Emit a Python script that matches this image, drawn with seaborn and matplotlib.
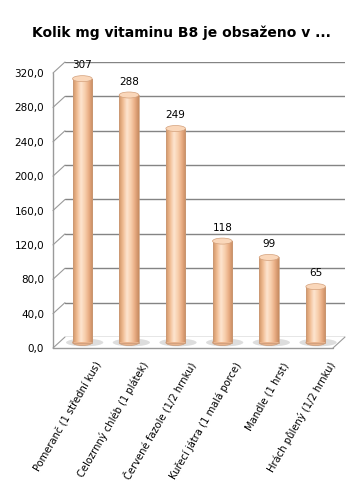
import matplotlib
matplotlib.use("Agg")
import matplotlib.pyplot as plt
import matplotlib.transforms as mtransforms
from matplotlib.patches import Ellipse
from matplotlib.lines import Line2D
from matplotlib.colors import LinearSegmentedColormap
from matplotlib.ticker import FuncFormatter
import numpy as np
import seaborn as sns

# Data
categories = [
    "Pomeranč (1 střední kus)",
    "Celozrnný chléb (1 plátek)",
    "Červené fazole (1/2 hrnku)",
    "Kuřecí játra (1 malá porce)",
    "Mandle (1 hrst)",
    "Hrách půlený (1/2 hrnku)",
]
values = [307, 288, 249, 118, 99, 65]
y_ticks = [0, 40, 80, 120, 160, 200, 240, 280, 320]

sns.set_style("white")
plt.rcParams["font.family"] = ["DejaVu Sans"]
plt.rcParams["text.color"] = "black"
plt.rcParams["xtick.color"] = "black"
plt.rcParams["ytick.color"] = "black"

DPI = 100
fig = plt.figure(figsize=(3.63, 4.95), dpi=DPI)
# back wall of the pseudo-3D chart
ax = fig.add_axes([65 / 363, 158 / 495, 280 / 363, 275 / 495])

bar_w = 0.42
sns.barplot(x=categories, y=values, ax=ax, width=bar_w, color="#f6c9a4",
            saturation=1, errorbar=None)

ax.set_xlim(-0.5, len(categories) - 0.5)
ax.set_ylim(0, 320)
ax.set_yticks(y_ticks)
ax.yaxis.set_major_formatter(FuncFormatter(lambda v, p: f"{v:.1f}".replace(".", ",")))
ax.set_xlabel("")
ax.set_ylabel("")
for s in ax.spines.values():
    s.set_visible(False)
ax.yaxis.grid(True, color="#848484", linewidth=1.0)
ax.set_axisbelow(True)
ax.tick_params(length=0, pad=0, colors="black")

# depth offsets (pixels)
front_dx, front_dy = -12, -11
mid_dx, mid_dy = -6, -5.5

def shifted(dx, dy):
    return ax.transData + mtransforms.ScaledTranslation(dx / DPI, dy / DPI, fig.dpi_scale_trans)

mid = shifted(mid_dx, mid_dy)

# cylinder shading
cyl = LinearSegmentedColormap.from_list(
    "cyl", ["#d09568", "#f1bd94", "#fde4cf", "#f8cfad", "#e9ad84", "#c78b60"])
grad = cyl(np.linspace(0, 1, 64))[None, :, :]
top_h = 7.0

for patch in ax.patches:
    x0 = patch.get_x()
    w = patch.get_width()
    h = patch.get_height()
    cx = x0 + w / 2
    # floor shadow
    ax.add_patch(Ellipse((cx + 0.05, 0), w * 1.9, 9, transform=mid,
                         facecolor="#cfcfcf", edgecolor="none", alpha=0.7,
                         zorder=1.5, clip_on=False))
    # rounded bottom
    ax.add_patch(Ellipse((cx, 0), w, top_h, transform=mid, facecolor="#eab48d",
                         edgecolor="#c99a78", linewidth=0.5, zorder=1.9, clip_on=False))
    patch.set_transform(mid)
    patch.set_facecolor("none")
    patch.set_edgecolor("#c99a78")
    patch.set_linewidth(0.5)
    patch.set_zorder(2.2)
    patch.set_clip_on(False)
    im = ax.imshow(grad, extent=(x0, x0 + w, 0, h), aspect="auto",
                   transform=mid, zorder=2.1, interpolation="bilinear")
    im.set_clip_path(patch)
    # top cap
    ax.add_patch(Ellipse((cx, h), w, top_h, transform=mid, facecolor="#fad7ba",
                         edgecolor="#d4a17c", linewidth=0.5, zorder=2.3, clip_on=False))

ax.set_xlim(-0.5, len(categories) - 0.5)
ax.set_ylim(0, 320)

# value labels
labels = ax.bar_label(ax.containers[0], labels=[str(v) for v in values],
                      padding=0, fontsize=7.5, color="black")
for t in labels:
    t.xyann = (mid_dx * 72 / DPI, 2)

# y tick labels on the front edge
for t in ax.get_yticklabels():
    t.set_fontsize(7.5)
    t.set_color("black")
    t.set_transform(t.get_transform() + mtransforms.ScaledTranslation(
        (front_dx - 9) / DPI, front_dy / DPI, fig.dpi_scale_trans))

# x tick labels
for t in ax.get_xticklabels():
    t.set_fontsize(7.2)
    t.set_color("black")
    t.set_rotation(60)
    t.set_rotation_mode("anchor")
    t.set_ha("right")
    t.set_va("center")
    t.set_transform(t.get_transform() + mtransforms.ScaledTranslation(11 / DPI, -26 / DPI, fig.dpi_scale_trans))

# walls: front axis line, depth diagonals, floor
front = shifted(front_dx, front_dy)
lc = "#9a9a9a"
ax.add_line(Line2D([-0.5, -0.5], [0, 320], transform=front, color=lc, lw=1.0, clip_on=False))
ax.add_line(Line2D([-0.5, len(categories) - 0.5], [0, 0], transform=front, color=lc, lw=1.0, clip_on=False))
for yv in y_ticks:
    bx, by = ax.transData.transform((-0.5, yv))
    ax.add_line(Line2D([bx, bx + front_dx], [by, by + front_dy], transform=mtransforms.IdentityTransform(),
                       color=lc, lw=0.8, clip_on=False))
bx, by = ax.transData.transform((len(categories) - 0.5, 0))
ax.add_line(Line2D([bx, bx + front_dx], [by, by + front_dy], transform=mtransforms.IdentityTransform(),
                   color=lc, lw=0.8, clip_on=False))

fig.suptitle("Kolik mg vitaminu B8 je obsaženo v ...", fontsize=10, fontweight="bold",
             y=1 - 33 / 495, va="center", color="black")

fig.savefig("out.png", dpi=DPI)
